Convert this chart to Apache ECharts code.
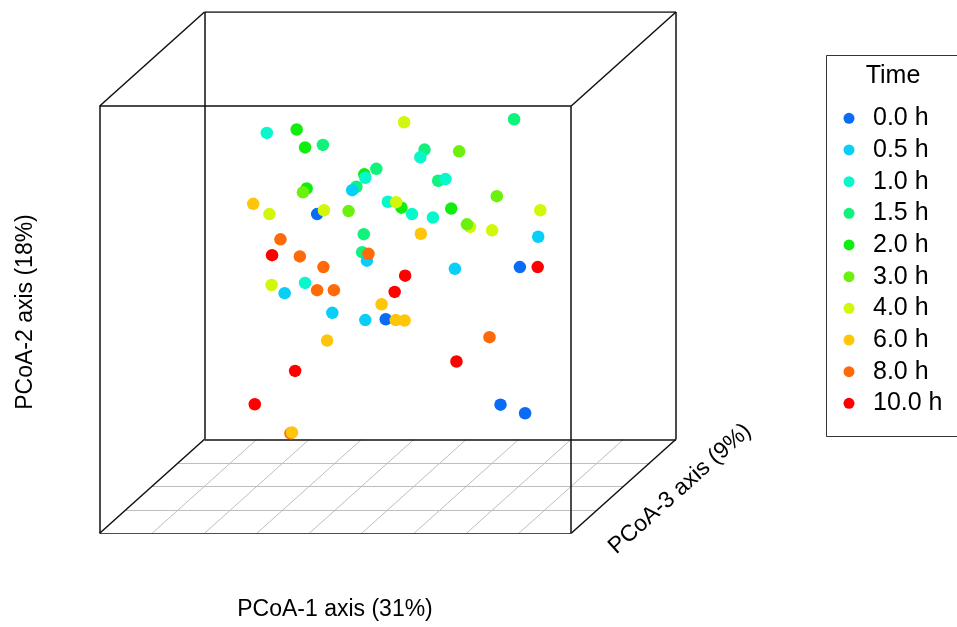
<!DOCTYPE html>
<html>
<head>
<meta charset="utf-8">
<script src="https://cdn.jsdelivr.net/npm/echarts@6/dist/echarts.min.js"></script>
<style>
  html, body { margin: 0; padding: 0; background: #fff; }
  #chart { width: 957px; height: 627px; }
</style>
</head>
<body>
<div id="chart"></div>
<script>
// Projected positions (box units: front face spans x 0..9, y 0..10; depth shifts by +2, +2.2)
var groups = ['0.0 h', '0.5 h', '1.0 h', '1.5 h', '2.0 h', '3.0 h', '4.0 h', '6.0 h', '8.0 h', '10.0 h'];
var groupColors = ['#0A6CF5', '#08CFF8', '#08F7CB', '#0FF27C', '#10EE10', '#6CF00E', '#D2F70A', '#FFC508', '#FF6A08', '#FF0000'];

var t00 = [[4.15, 7.47], [5.46, 5.01], [8.02, 6.23], [7.65, 3.01], [8.12, 2.81]];
var t05 = [[4.82, 8.03], [5.10, 6.38], [3.53, 5.62], [4.44, 5.16], [5.07, 4.99], [6.78, 6.19], [8.37, 6.94]];
var t10 = [[3.19, 9.37], [5.07, 8.32], [5.50, 7.76], [6.12, 8.80], [6.60, 8.29], [5.96, 7.47], [6.36, 7.39], [3.92, 5.86]];
var t15 = [[4.26, 9.09], [5.28, 8.53], [4.90, 8.11], [5.04, 7.00], [5.01, 6.58], [6.20, 8.98], [7.91, 9.69], [6.46, 8.25]];
var t20 = [[3.76, 9.45], [3.92, 9.03], [5.05, 8.40], [3.95, 8.07], [5.76, 7.62], [6.71, 7.60]];
var t30 = [[3.88, 7.98], [4.75, 7.54], [6.86, 8.94], [7.58, 7.89], [7.01, 7.23]];
var t40 = [[3.24, 7.47], [4.28, 7.56], [5.66, 7.75], [5.81, 9.62], [7.07, 7.17], [7.49, 7.09], [8.41, 7.56], [3.28, 5.81]];
var t60 = [[2.93, 7.71], [6.13, 7.01], [5.38, 5.36], [5.65, 4.99], [5.82, 4.98], [4.34, 4.51], [3.67, 2.36]];
var t80 = [[3.64, 2.34], [3.45, 6.88], [3.82, 6.48], [4.27, 6.23], [5.13, 6.54], [4.15, 5.69], [4.47, 5.69], [7.44, 4.59]];
var t100 = [[3.29, 6.51], [5.83, 6.03], [5.63, 5.65], [8.36, 6.23], [3.73, 3.80], [2.96, 3.02], [6.81, 4.02]];

var groupData = [t00, t05, t10, t15, t20, t30, t40, t60, t80, t100];
// drawing order (later = on top)
var drawOrder = [4, 3, 2, 1, 0, 6, 5, 8, 7, 9];

var axisTitles = ['PCoA-1 axis (31%)', 'PCoA-2 axis (18%)', 'PCoA-3 axis (9%)'];
var legendTitle = 'Time';

// box geometry in axis units
var W = 9, H = 10, DX = 2, DY = 2.2;

var boxSegs = [
  [[0, 0], [W, 0]], [[W, 0], [W, H]], [[W, H], [0, H]], [[0, H], [0, 0]],
  [[DX, DY], [W + DX, DY]], [[W + DX, DY], [W + DX, H + DY]], [[W + DX, H + DY], [DX, H + DY]], [[DX, H + DY], [DX, DY]],
  [[0, 0], [DX, DY]], [[W, 0], [W + DX, DY]], [[W, H], [W + DX, H + DY]], [[0, H], [DX, H + DY]]
];
var gridSegs = [];
[0.25, 0.5, 0.75].forEach(function (f) {
  gridSegs.push([[DX * f, DY * f], [W + DX * f, DY * f]]);
});
for (var k = 1; k < W; k++) {
  gridSegs.push([[k, 0], [k + DX, DY]]);
}

var series = [
  {
    type: 'lines', coordinateSystem: 'cartesian2d', silent: true, z: 1,
    lineStyle: { color: '#bebebe', width: 1, opacity: 1 },
    data: gridSegs.map(function (s) { return { coords: s }; })
  },
  {
    type: 'lines', coordinateSystem: 'cartesian2d', silent: true, z: 2,
    lineStyle: { color: '#111111', width: 1.5, opacity: 1 },
    data: boxSegs.map(function (s) { return { coords: s }; })
  }
];
drawOrder.forEach(function (gi, idx) {
  series.push({
    type: 'scatter',
    name: groups[gi],
    data: groupData[gi],
    symbol: 'circle',
    symbolSize: 12.5,
    z: 3 + idx,
    itemStyle: { color: groupColors[gi], opacity: 1 }
  });
});

var FONT = '"Liberation Sans", Arial, Helvetica, sans-serif';

var chart = echarts.init(document.getElementById('chart'), null, { renderer: 'canvas' });
chart.setOption({
  animation: false,
  backgroundColor: '#ffffff',
  grid: { left: 99.7, right: 281, top: 12, bottom: 93.7, containLabel: false },
  xAxis: { type: 'value', min: 0, max: W + DX, show: false },
  yAxis: { type: 'value', min: 0, max: H + DY, show: false },
  legend: {
    data: groups.map(function (g, i) { return { name: g, icon: 'circle', itemStyle: { color: groupColors[i] } }; }),
    orient: 'vertical',
    left: 843.5,
    top: 105.8,
    padding: 0,
    itemWidth: 11,
    itemHeight: 11,
    itemGap: 6.67,
    selectedMode: false,
    textStyle: { fontFamily: FONT, fontSize: 25, color: '#000', lineHeight: 25, padding: [0, 0, 0, 13.5] }
  },
  graphic: [
    { type: 'rect', shape: { x: 826.5, y: 55.5, width: 200, height: 381 }, style: { fill: 'none', stroke: '#333', lineWidth: 1 }, z: 0 },
    { type: 'text', x: 893, y: 76, style: { text: legendTitle, font: '25px ' + FONT, fill: '#000', textAlign: 'center', textVerticalAlign: 'middle' } },
    { type: 'text', x: 335, y: 610, style: { text: axisTitles[0], font: '23px ' + FONT, fill: '#000', textAlign: 'center', textVerticalAlign: 'middle' } },
    { type: 'text', x: 26, y: 312, rotation: Math.PI / 2, style: { text: axisTitles[1], font: '23px ' + FONT, fill: '#000', textAlign: 'center', textVerticalAlign: 'middle' } },
    { type: 'text', x: 680, y: 489, rotation: Math.atan2(94, 104.5), style: { text: axisTitles[2], font: '23px ' + FONT, fill: '#000', textAlign: 'center', textVerticalAlign: 'middle' } }
  ],
  series: series
});
</script>
</body>
</html>
